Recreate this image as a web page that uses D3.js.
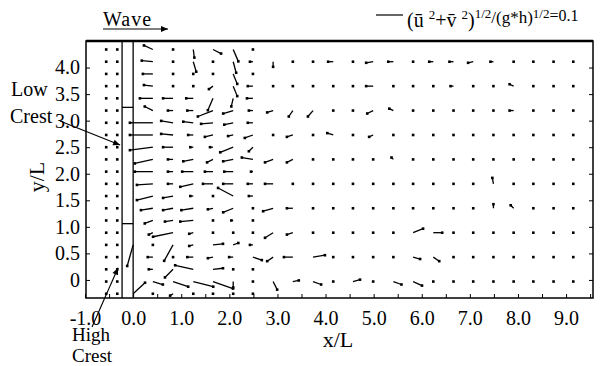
<!DOCTYPE html>
<html>
<head>
<meta charset="utf-8">
<script src="https://cdn.jsdelivr.net/npm/d3@7"></script>
<style>
  body { margin: 0; background: #fff; }
  svg { display: block; font-family: "Liberation Serif", "Times New Roman", serif; }
</style>
</head>
<body>
<svg width="607" height="366"></svg>
<script>
// tick labels
var xTicks = [-1, 0, 1, 2, 3, 4, 5, 6, 7, 8, 9];
var yTicks = [0, 0.5, 1.0, 1.5, 2.0, 2.5, 3.0, 3.5, 4.0];
var minorX = [-1, -0.5, 0, 0.5, 1, 1.5, 2, 2.5, 3, 3.5, 4, 4.5, 5, 5.5, 6, 6.5, 7, 7.5, 8, 8.5, 9, 9.5];

// breakwater (x/L of both faces) and low-crest section (y/L)
var breakwaterX = [-0.23, 0];
var lowCrest = [1.06, 3.25];

// measuring grid
var rowY = [4.34, 4.11, 3.88, 3.65, 3.42, 3.19, 2.96, 2.73, 2.50, 2.27, 2.04,
            1.81, 1.58, 1.35, 1.12, 0.89, 0.66, 0.43, 0.20, -0.03, -0.26];
var leftX = [-0.56, -0.33];
var nearX = [0.41, 0.83, 1.25, 1.66, 2.08, 2.49];
var farX = [2.91, 3.32, 3.74, 4.16, 4.57, 4.99, 5.41, 5.82, 6.24, 6.66, 7.07, 7.49, 7.91, 8.32, 8.74, 9.15];
var farY = [4.11, 3.65, 3.19, 2.73, 2.27, 1.81, 1.35, 0.89, 0.43, -0.03];

// mean velocity, u/(g*h)^1/2 and v/(g*h)^1/2, lee side near field (rows of rowY)
var nearU = [
  [-0.033, 0, 0.004, 0.030, 0.019, 0],
  [-0.041, 0, 0.011, 0, 0.011, -0.011],
  [-0.037, 0, 0, 0, 0.015, 0],
  [-0.033, 0, 0, -0.015, 0.015, -0.019],
  [-0.048, -0.037, -0.026, -0.019, -0.007, -0.022],
  [-0.030, -0.019, -0.022, -0.056, -0.037, -0.015],
  [-0.085, -0.044, -0.037, -0.044, -0.033, -0.019],
  [-0.085, -0.044, -0.019, -0.030, -0.019, -0.030],
  [-0.085, -0.037, -0.011, -0.011, -0.048, -0.015],
  [-0.067, -0.019, -0.037, -0.022, -0.037, -0.041],
  [-0.067, -0.019, -0.041, -0.030, -0.033, -0.007],
  [-0.059, -0.019, -0.048, -0.037, -0.037, -0.019],
  [-0.059, -0.037, -0.011, 0, -0.056, -0.015],
  [-0.044, -0.037, -0.044, -0.019, -0.037, 0],
  [-0.030, -0.030, -0.048, 0, -0.007, 0],
  [-0.015, -0.074, -0.015, 0, 0, 0],
  [0, -0.033, -0.015, 0.037, 0.019, -0.011],
  [-0.019, 0, -0.022, -0.019, -0.015, 0.033],
  [-0.015, -0.030, -0.067, 0.037, 0, 0],
  [0.037, 0.056, 0.074, 0.074, 0, 0],
  [0, -0.011, 0, 0, 0, 0]
];
var nearV = [
  [0.015, 0, -0.030, -0.015, -0.044, 0],
  [0.004, 0, -0.037, 0, -0.041, 0],
  [0, 0, 0, 0, -0.037, 0],
  [0.004, 0, 0, -0.011, -0.037, 0],
  [0, 0, 0, -0.044, -0.030, 0],
  [0.015, 0, 0, -0.022, -0.011, 0],
  [0, 0.007, 0.004, -0.004, -0.007, 0],
  [0, 0.004, 0, -0.007, -0.004, -0.011],
  [-0.011, 0, 0, 0, -0.019, -0.015],
  [-0.015, 0, -0.007, -0.011, -0.007, 0.007],
  [0, 0, 0, 0, 0, 0],
  [-0.004, 0, -0.011, 0, 0, 0],
  [-0.015, -0.007, 0, 0, 0.030, 0],
  [-0.007, -0.007, -0.007, -0.004, -0.015, 0],
  [-0.011, -0.004, -0.004, 0, 0, 0],
  [-0.007, -0.015, -0.004, 0, 0, 0],
  [0, -0.059, -0.004, 0.004, 0.007, 0],
  [0, 0, 0, -0.004, 0, -0.011],
  [0, -0.030, 0.015, 0.004, 0, 0],
  [-0.011, -0.019, -0.019, -0.026, -0.022, 0],
  [0, -0.007, 0, 0, 0, 0]
];

// far field (rows of farY)
var farU = [
  [0, 0, 0, -0.019, 0, -0.026, -0.019, 0, -0.015, -0.015, -0.019, -0.011, 0, 0, 0, 0],
  [0, 0, 0, 0, 0, -0.026, 0, 0, 0, -0.011, 0, 0, -0.015, 0, 0, 0],
  [-0.022, -0.015, -0.019, 0, 0, -0.022, -0.015, 0, 0, 0, 0, 0, -0.015, 0, 0, 0],
  [0, -0.022, 0, -0.022, 0, -0.015, 0, 0, 0, 0, 0, 0, 0, 0, 0, 0],
  [-0.030, -0.022, 0, 0, 0, 0, -0.007, 0, 0, 0, 0, 0, 0, 0, 0, 0],
  [-0.030, 0, 0, 0, 0, 0, 0, 0, 0, 0, 0, -0.004, 0, 0, 0, 0],
  [-0.037, -0.022, 0, 0, 0, 0, 0, 0, 0, 0, 0, 0, -0.011, 0, 0, 0],
  [-0.030, -0.022, 0, 0, 0, 0, 0, 0.037, 0.033, 0, 0, 0, 0, 0, 0, 0],
  [-0.022, -0.033, 0.044, 0, 0, 0, 0, 0.026, 0.022, 0, 0, 0, 0, 0, 0, 0],
  [0.015, 0.022, 0.030, 0, 0.026, 0, 0.030, 0.033, 0, 0, 0, 0, 0, 0, 0, 0]
];
var farV = [
  [-0.019, 0, 0, 0, 0, -0.004, 0, 0, 0, 0, -0.004, 0, 0, 0, 0, 0],
  [0, 0, 0, 0, 0, 0, 0, 0, 0, 0, 0, 0, 0.007, 0, 0, 0],
  [-0.007, -0.022, -0.022, 0, 0, -0.011, 0.007, 0, 0, 0, 0, 0, 0, 0, 0, 0],
  [0, -0.007, 0, 0.007, 0, -0.007, 0, 0, 0, 0, 0, 0, 0, 0, 0, 0],
  [-0.011, -0.011, 0, 0, 0, 0, 0.007, 0, 0, 0, 0, 0, 0, 0, 0, 0],
  [0, 0, 0, 0, 0, 0, 0, 0, 0, 0, 0, 0.022, 0, 0, 0, 0],
  [-0.011, 0, 0, 0, 0, 0, 0, 0, 0, 0, 0, 0.015, 0.011, 0, 0, 0],
  [-0.019, -0.007, 0, 0, 0, 0, 0, 0.015, 0, 0, 0, 0, 0, 0, 0, 0],
  [-0.015, 0, 0.007, 0, 0, 0, 0, -0.007, -0.015, 0, 0, 0, 0, 0, 0, 0],
  [-0.030, 0.004, -0.011, 0, 0.007, 0, -0.011, -0.015, 0, 0, 0, 0, 0, 0, 0, 0]
];

// points on the breakwater face
var gapY = [0.66, -0.26];
var gapU = [-0.022, 0.044];
var gapV = [-0.078, 0.041];

var legendValue = 0.1;

var svg = d3.select("svg");

var x = d3.scaleLinear().domain([-0.98, 9.56]).range([86, 593]);
var y = d3.scaleLinear().domain([-0.34, 4.5]).range([298, 41]);
var len = d3.scaleLinear().domain([0, legendValue]).range([0, 27]);

// collect vectors
var vectors = [];
rowY.forEach(function (yy, k) {
  leftX.forEach(function (xx) {
    vectors.push({ x: xx, y: yy, u: 0, v: 0 });
  });
  nearX.forEach(function (xx, c) {
    vectors.push({ x: xx, y: yy, u: nearU[k][c], v: nearV[k][c] });
  });
});
farY.forEach(function (yy, r) {
  farX.forEach(function (xx, c) {
    vectors.push({ x: xx, y: yy, u: farU[r][c], v: farV[r][c] });
  });
});
gapY.forEach(function (yy, i) {
  vectors.push({ x: 0, y: yy, u: gapU[i], v: gapV[i] });
});

// frame
svg.append("rect")
  .attr("x", x.range()[0]).attr("y", y.range()[1])
  .attr("width", x.range()[1] - x.range()[0])
  .attr("height", y.range()[0] - y.range()[1])
  .attr("fill", "none").attr("stroke", "#000").attr("stroke-width", 1.5);
svg.append("line")
  .attr("x1", x.range()[0]).attr("x2", x.range()[1])
  .attr("y1", y.range()[1]).attr("y2", y.range()[1])
  .attr("stroke", "#000").attr("stroke-width", 2.6);

// inward ticks
svg.append("g")
  .attr("transform", "translate(0," + y.range()[0] + ")")
  .call(d3.axisBottom(x).tickValues(minorX).tickSize(-4).tickFormat(""))
  .call(function (g) { g.select(".domain").remove(); });
svg.append("g")
  .attr("transform", "translate(" + x.range()[0] + ",0)")
  .call(d3.axisLeft(y).tickValues(yTicks).tickSize(-4).tickFormat(""))
  .call(function (g) { g.select(".domain").remove(); });
svg.append("g")
  .attr("transform", "translate(" + x.range()[1] + ",0)")
  .call(d3.axisRight(y).tickValues(yTicks).tickSize(-4).tickFormat(""))
  .call(function (g) { g.select(".domain").remove(); });

// tick labels
var xAxis = svg.append("g")
  .attr("transform", "translate(0," + y.range()[0] + ")")
  .call(d3.axisBottom(x).tickValues(xTicks).tickSize(0).tickPadding(13)
    .tickFormat(function (d) { return d.toFixed(1); }));
xAxis.select(".domain").remove();
xAxis.attr("font-family", null).attr("font-size", null);
xAxis.selectAll("text").attr("font-size", 20).attr("fill", "#000");

var yAxis = svg.append("g")
  .attr("transform", "translate(" + x.range()[0] + ",0)")
  .call(d3.axisLeft(y).tickValues(yTicks).tickSize(0).tickPadding(6)
    .tickFormat(function (d) { return d === 0 ? "0" : d.toFixed(1); }));
yAxis.select(".domain").remove();
yAxis.attr("font-family", null).attr("font-size", null);
yAxis.selectAll("text").attr("font-size", 20).attr("fill", "#000");

// axis titles
svg.append("text").attr("x", 338).attr("y", 347)
  .attr("text-anchor", "middle").attr("font-size", 22).text("x/L");
svg.append("text").attr("transform", "translate(44,177) rotate(-90)")
  .attr("text-anchor", "middle").attr("font-size", 22).text("y/L");

// breakwater
var bw = svg.append("g").attr("stroke", "#000").attr("stroke-width", 1.3);
breakwaterX.forEach(function (bx) {
  bw.append("line").attr("x1", x(bx)).attr("x2", x(bx))
    .attr("y1", y.range()[1]).attr("y2", y.range()[0]);
});
lowCrest.forEach(function (cy) {
  bw.append("line").attr("x1", x(breakwaterX[0])).attr("x2", x(breakwaterX[1]))
    .attr("y1", y(cy)).attr("y2", y(cy));
});

// velocity vectors
var vg = svg.append("g");
vg.selectAll("line")
  .data(vectors.filter(function (d) { return d.u !== 0 || d.v !== 0; }))
  .enter().append("line")
  .attr("x1", function (d) { return x(d.x); })
  .attr("y1", function (d) { return y(d.y); })
  .attr("x2", function (d) { return x(d.x) + len(d.u); })
  .attr("y2", function (d) { return y(d.y) - len(d.v); })
  .attr("stroke", "#000").attr("stroke-width", 1.3);
vg.selectAll("rect")
  .data(vectors)
  .enter().append("rect")
  .attr("x", function (d) { return x(d.x) + len(d.u) - 1.3; })
  .attr("y", function (d) { return y(d.y) - len(d.v) - 1.3; })
  .attr("width", 2.6).attr("height", 2.6)
  .attr("fill", "#000");

// arrows with filled heads
function arrow(x1, y1, x2, y2) {
  var a = Math.atan2(y2 - y1, x2 - x1), h = 7, w = 3;
  svg.append("line").attr("x1", x1).attr("y1", y1).attr("x2", x2).attr("y2", y2)
    .attr("stroke", "#000").attr("stroke-width", 1.1);
  var bx = x2 - h * Math.cos(a), by = y2 - h * Math.sin(a);
  svg.append("polygon")
    .attr("points", [
      [x2, y2],
      [bx + w * Math.sin(a), by - w * Math.cos(a)],
      [bx - w * Math.sin(a), by + w * Math.cos(a)]
    ].map(function (p) { return p.join(","); }).join(" "))
    .attr("fill", "#000");
}

// wave direction
svg.append("text").attr("x", 103).attr("y", 26).attr("font-size", 20)
  .attr("letter-spacing", 1).text("Wave");
arrow(103, 29, 168, 29);

// crest annotations
svg.append("text").attr("x", 11).attr("y", 96).attr("font-size", 20).text("Low");
svg.append("text").attr("x", 10).attr("y", 123).attr("font-size", 20).text("Crest");
arrow(60, 121, x(breakwaterX[0]) - 2, y(2.54));
svg.append("text").attr("x", 72).attr("y", 341).attr("font-size", 19).text("High");
svg.append("text").attr("x", 72).attr("y", 362).attr("font-size", 19).text("Crest");
arrow(92, 327, x(breakwaterX[0]) - 4, y(0.23));

// legend
svg.append("line")
  .attr("x1", 376).attr("x2", 376 + len(legendValue))
  .attr("y1", 15).attr("y2", 15)
  .attr("stroke", "#000").attr("stroke-width", 1.2);
var leg = svg.append("text").attr("x", 407).attr("y", 27).attr("font-size", 20);
leg.append("tspan").text("(\u016B ");
leg.append("tspan").attr("font-size", 13).attr("dy", -8).text("2");
leg.append("tspan").attr("dy", 8).text("+v\u0304 ");
leg.append("tspan").attr("font-size", 13).attr("dy", -8).text("2");
leg.append("tspan").attr("dy", 8).text(")");
leg.append("tspan").attr("font-size", 13).attr("dy", -9).text("1/2");
leg.append("tspan").attr("font-size", 17).attr("dy", 5).text("/(g*h)");
leg.append("tspan").attr("font-size", 13).attr("dy", -5).text("1/2");
leg.append("tspan").attr("font-size", 16).attr("dy", 3).text("=" + legendValue);
</script>
</body>
</html>
